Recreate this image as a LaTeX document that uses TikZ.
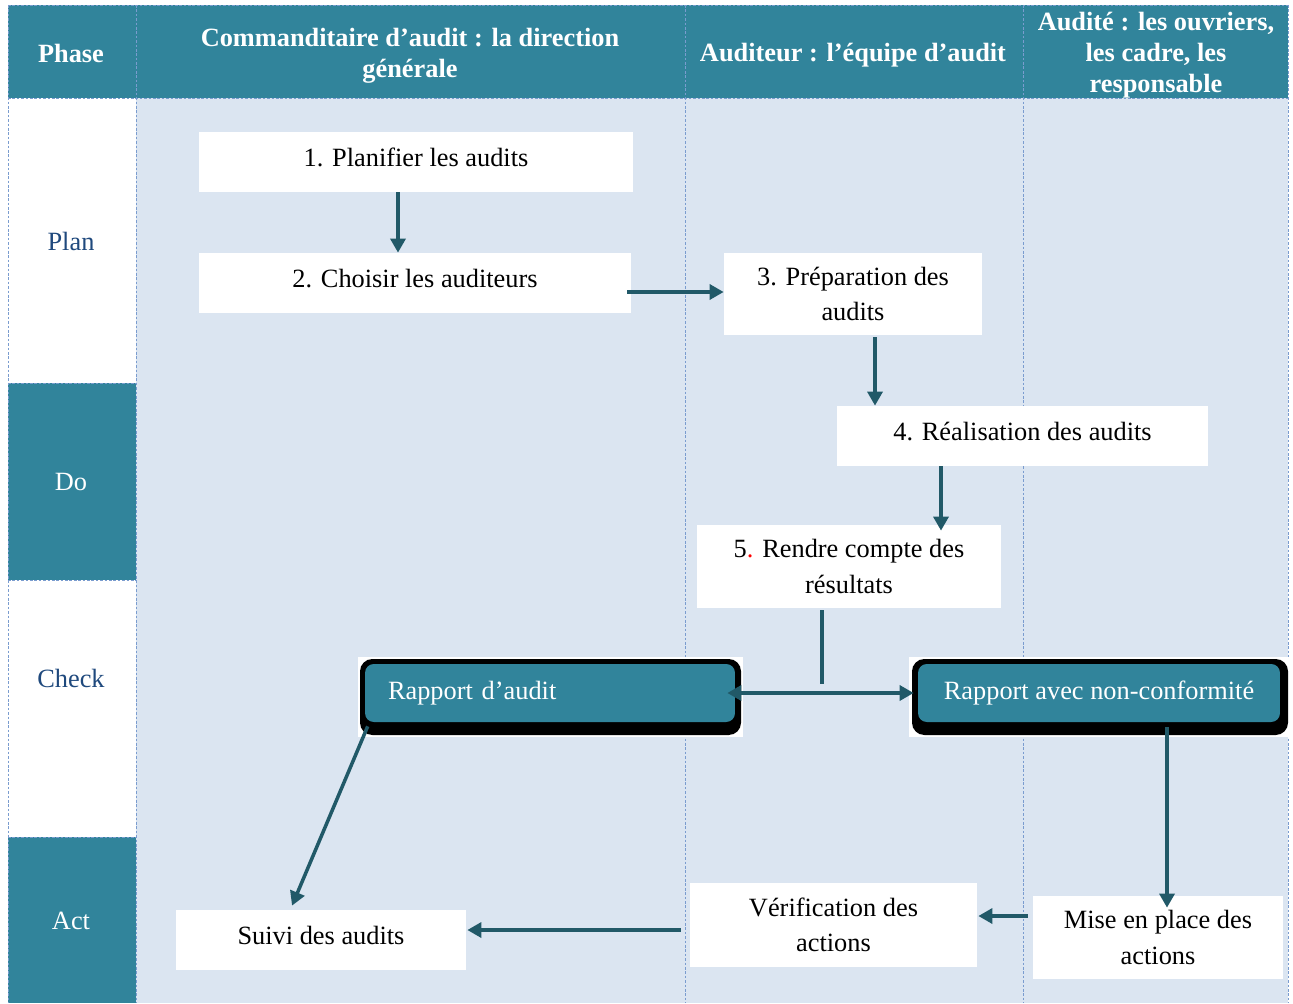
\documentclass[tikz,border=0pt]{standalone}
\usepackage{fontspec}
\setmainfont{Liberation Serif}
\usetikzlibrary{arrows.meta,calc}
\definecolor{tealc}{HTML}{31849B}
\definecolor{arrowc}{HTML}{215968}
\definecolor{lanec}{HTML}{DBE5F1}
\definecolor{phasec}{HTML}{1F497D}
\definecolor{gridc}{HTML}{7A9CCF}

\begin{document}
\begin{tikzpicture}[x=0.02cm,y=-0.02cm,
  box/.style={fill=white, inner sep=0pt, align=center, font=\fontsize{15}{20}\selectfont},
  oneline/.style={text height=10.5pt, text depth=5.6pt},
  hdr/.style={text=white, align=center, font=\bfseries\fontsize{15}{17.5}\selectfont},
  phase/.style={font=\fontsize{15}{18}\selectfont},
  gridline/.style={gridc, line width=0.5pt, dash pattern=on 1.5pt off 1pt},
  tip/.tip={Triangle[length=8pt,width=8.5pt]},
  arr/.style={arrowc, line width=2pt, -tip},
  dblarr/.style={arrowc, line width=2pt, tip-tip},
  link/.style={arrowc, line width=2pt},
  report/.style={fill=tealc, rounded corners=5pt, text=white, inner ysep=0pt,
    minimum height=1.16cm, font=\fontsize{15}{18}\selectfont}]

\useasboundingbox (0,0) rectangle (1293,1003);
\fill[white] (0,0) rectangle (1293,1003);

% swimlane backgrounds
\fill[lanec] (136,98) rectangle (1288,1003);
\fill[tealc] (8,5) rectangle (1288,98);
\fill[tealc] (8,383) rectangle (136,580);
\fill[tealc] (8,837) rectangle (136,1003);

% table rules
\draw[gridline] (8,5) -- (1288,5);
\draw[gridline] (8,98) -- (1288,98);
\draw[gridline] (8,383) -- (136,383);
\draw[gridline] (8,580) -- (136,580);
\draw[gridline] (8,837) -- (136,837);
\foreach \xx in {8,136,685,1023,1288}
  \draw[gridline] (\xx,5) -- (\xx,1003);

% header
\node[hdr] (hphase) at (71,53) {Phase};
\node[hdr] (hcomm) at (410,56) {Commanditaire d’audit : la direction\\générale};
\node[hdr] (haud) at (853,55) {Auditeur : l’équipe d’audit};
\node[hdr] (hadt) at (1156,55) {Audité : les ouvriers,\\les cadre, les\\responsable};

% phases
\node[phase, text=phasec] (plan) at (71,241) {Plan};
\node[phase, text=white] (do) at (71,482) {Do};
\node[phase, text=phasec] (check) at (71,678) {Check};
\node[phase, text=white] (act) at (71,921) {Act};

% process steps
\node[box, oneline, minimum width=8.68cm, minimum height=1.2cm] (p1) at (416,162) {1. Planifier les audits};
\node[box, oneline, minimum width=8.64cm, minimum height=1.2cm] (p2) at (415,283) {2. Choisir les auditeurs};
\node[box, minimum width=5.16cm, minimum height=1.64cm] (p3) at (853,294) {3. Préparation des\\audits};
\node[box, oneline, minimum width=7.42cm, minimum height=1.2cm] (p4) at (1022.5,436) {4. Réalisation des audits};
\node[box, minimum width=6.08cm, minimum height=1.66cm] (p5) at (849,566.5) {5\textcolor{red}{.} Rendre compte des\\résultats};

% reports
\fill[white] (358,657) rectangle (743,737);
\fill[black, rounded corners=7pt] (360,659) rectangle (741,735);
\node[report, inner xsep=0.46cm, text width=6.48cm, align=left] (rapA) at (550,693) {Rapport d’audit};
\fill[white] (909,657) rectangle (1290,737);
\fill[black, rounded corners=7pt] (912,659) rectangle (1288,735);
\node[report, inner xsep=0pt, minimum width=7.24cm, align=center] (rapB) at (1099,693) {Rapport avec non-conformité};

% act steps
\node[box, oneline, minimum width=5.8cm, minimum height=1.2cm] (suivi) at (321,940) {Suivi des audits};
\node[box, minimum width=5.74cm, minimum height=1.68cm] (verif) at (833.5,925) {Vérification des\\actions};
\node[box, minimum width=5.0cm, minimum height=1.66cm] (mise) at (1158,937.5) {Mise en place des\\actions};

% connectors
\draw[arr] ($(p1.south)+(-18,0)$) -- ($(p2.north)+(-17,0)$);
\draw[arr] ($(p2.east)+(-4,9)$) -- ($(p3.west)+(0,-2)$);
\draw[arr] ($(p3.south)+(22,2)$) -- ($(p4.north)+(-147.5,0)$);
\draw[arr] ($(p4.south)+(-81.5,0)$) -- ($(p5.north)+(92,6)$);
\draw[link] ($(p5.south)+(-27,2)$) -- ($(p5.south)+(-27,76)$);
\draw[dblarr] ($(rapA.east)+(-8,0)$) -- ($(rapB.west)+(-4,0)$);
\draw[arr] ($(rapA.south west)+(3,4)$) -- ($(suivi.north)+(-29,-4)$);
\draw[arr] ($(rapB.south)+(68,5)$) -- ($(mise.north)+(9,12)$);
\draw[arr] ($(mise.west)+(-5,-21.5)$) -- ($(verif.east)+(1,-9)$);
\draw[arr] ($(verif.west)+(-9,5)$) -- ($(suivi.east)+(1,-10)$);
\end{tikzpicture}
\end{document}
